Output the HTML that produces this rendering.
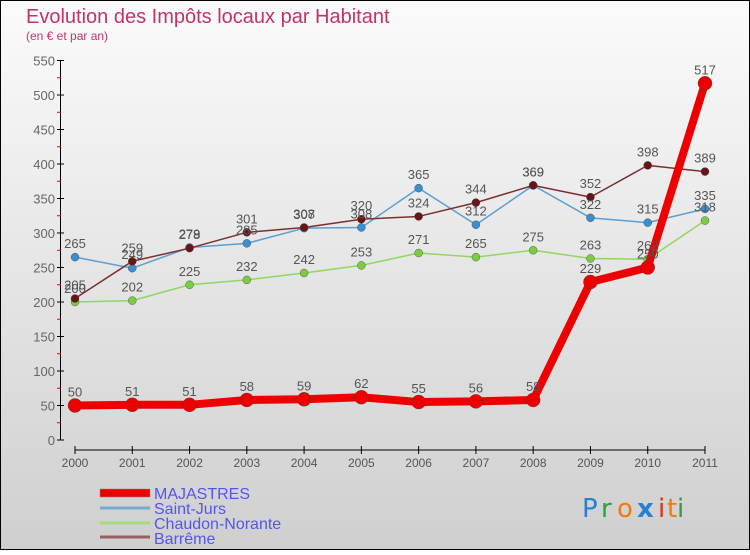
<!DOCTYPE html>
<html><head><meta charset="utf-8"><style>
html,body{margin:0;padding:0}
body{width:750px;height:550px;overflow:hidden;font-family:"Liberation Sans","DejaVu Sans",sans-serif}
</style></head><body>
<svg id="c" width="750" height="550" xmlns="http://www.w3.org/2000/svg">
<defs><linearGradient id="bg" x1="0" y1="0" x2="0" y2="1"><stop offset="0" stop-color="#fbfbfb"/><stop offset="1" stop-color="#cfcfcf"/></linearGradient></defs>
<rect x="0.5" y="0.5" width="749" height="549" fill="url(#bg)" stroke="#000"/>
<text x="26" y="23" font-size="20" fill="#c0336a">Evolution des Impôts locaux par Habitant</text>
<text x="26" y="40" font-size="12" fill="#c0336a">(en € et par an)</text>
<g id="axes"></g><g id="series"></g><g id="labels"></g>
<g font-size="16" fill="#5555ee">
<rect x="100" y="489" width="50" height="8" fill="#e00" stroke="#888" stroke-width="0.5"/>
<text x="154" y="499">MAJASTRES</text>
<line x1="100" y1="508" x2="150" y2="508" stroke="#7aaad0" stroke-width="3"/>
<text x="154" y="514">Saint-Jurs</text>
<line x1="100" y1="523" x2="150" y2="523" stroke="#a3dd7a" stroke-width="3"/>
<text x="154" y="529">Chaudon-Norante</text>
<line x1="100" y1="537" x2="150" y2="537" stroke="#9a6060" stroke-width="3"/>
<text x="154" y="544">Barrême</text>
</g>
<g font-size="26" font-family="'DejaVu Sans',sans-serif">
<text x="582" y="517" fill="#2a7fd0">P</text><text x="601" y="517" fill="#2aa040">r</text><text x="617" y="517" fill="#f07a10">o</text><text x="637" y="517" fill="#2a7fd0" font-weight="bold">x</text><text x="658" y="517" fill="#e03010">i</text><text x="667" y="517" fill="#f07a10">t</text><text x="677" y="517" fill="#2aa040">i</text>
</g>
</svg>
<script>
const years=["2000","2001","2002","2003","2004","2005","2006","2007","2008","2009","2010","2011"];
const yTicks=[0,50,100,150,200,250,300,350,400,450,500,550];
const majastres=[50,51,51,58,59,62,55,56,58,229,250,517];
const saintJurs=[265,249,279,285,307,308,365,312,369,322,315,335];
const chaudon=[200,202,225,232,242,253,271,265,275,263,262,318];
const barreme=[205,259,278,301,308,320,324,344,369,352,398,389];
const NS="http://www.w3.org/2000/svg";
const x=i=>75+i*(630/11);
const y=v=>440-v*(379.5/550);
function mk(t,a,p){const e=document.createElementNS(NS,t);for(const k in a)e.setAttribute(k,a[k]);p.appendChild(e);return e;}
const ax=document.getElementById('axes');
mk('line',{x1:60.5,y1:y(550),x2:60.5,y2:y(0),stroke:'#000'},ax);
yTicks.forEach(v=>{
 mk('line',{x1:57,y1:y(v),x2:64,y2:y(v),stroke:'#000'},ax);
 if(v<550)mk('line',{x1:57,y1:y(v+25),x2:61,y2:y(v+25),stroke:'#e00'},ax);
 const t=mk('text',{x:55,y:y(v)+5,'text-anchor':'end','font-size':13,fill:'#666'},ax);
 
 
 t.textContent=v;
});
mk('line',{x1:75,y1:450,x2:705,y2:450,stroke:'#000'},ax);
years.forEach((yr,i)=>{
 mk('line',{x1:x(i),y1:446,x2:x(i),y2:454,stroke:'#000'},ax);
 const t=mk('text',{x:x(i),y:467,'text-anchor':'middle','font-size':12,fill:'#555'},ax);
 
 
 t.textContent=yr;
});
const sg=document.getElementById('series'),lg=document.getElementById('labels');
const series=[
 {d:saintJurs,c:'#5a9fd4',dot:'#3a8fd0',w:1.5,r:4,n:'saint-jurs'},
 {d:chaudon,c:'#8ed860',dot:'#7acc40',w:1.5,r:4,n:'chaudon-norante'},
 {d:barreme,c:'#7a3030',dot:'#6a1515',w:1.5,r:4,n:'barreme'},
 {d:majastres,c:'#ee0000',dot:'#ee0000',w:8,r:7,n:'majastres'}
];
series.forEach(s=>{
 const p=mk('polyline',{points:s.d.map((v,i)=>x(i)+','+y(v)).join(' '),fill:'none',stroke:s.c,'stroke-width':s.w,'stroke-linejoin':'round'},sg);
 
 
 s.d.forEach((v,i)=>{
  const c=mk('circle',{cx:x(i),cy:y(v),r:s.r,fill:s.dot,stroke:'#444','stroke-width':0.4},sg);
  
  
  const t=mk('text',{x:x(i),y:y(v)-9,'text-anchor':'middle','font-size':13,fill:'#555'},lg);
  
  
  t.textContent=v;
 });
});
</script>
</body></html>
